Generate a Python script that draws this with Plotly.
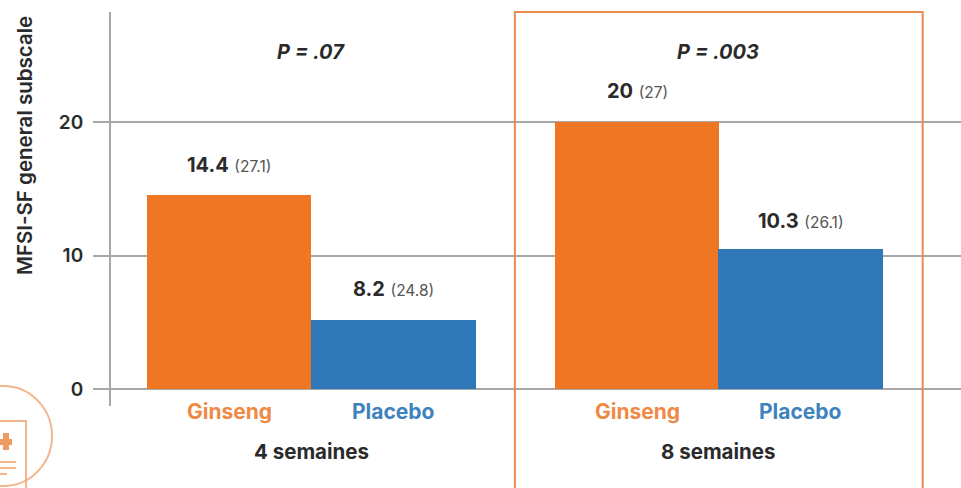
import plotly.graph_objects as go

# ---- data
x_positions = [0, 1, 2.48, 3.475]
group_x = [0.5, 2.975]
bar_heights = [14.5, 5.2, 20, 10.5]
bar_colors = ["#EF7622", "#2F78B7", "#EF7622", "#2F78B7"]
bar_main = ["14.4", "8.2", "20", "10.3"]
bar_sd = ["(27.1)", "(24.8)", "(27)", "(26.1)"]
arm_labels = ["Ginseng", "Placebo", "Ginseng", "Placebo"]
group_labels = ["4 semaines", "8 semaines"]
p_labels = ["P = .07", "P = .003"]
y_ticks = [0, 10, 20]
y_title = "MFSI-SF general subscale"

FONT = "Inter"
GRID = "#A8A8A8"
INK = "#2B2B2B"
ORANGE_TXT = "#EE8A45"
BLUE_TXT = "#3F83BE"
SOFT = "#F3B68C"

W, H = 961, 488
L, T, B = 111, 12, 82
PW, PH = W - L, H - T - B

fig = go.Figure()
fig.add_trace(go.Bar(
    x=x_positions, y=bar_heights, width=1.0,
    marker=dict(color=bar_colors, line=dict(width=0)),
    hoverinfo="skip", showlegend=False, cliponaxis=False,
))

ann = []
def text(x, y, s, size, color, xref="x", yref="y", weight=600, **kw):
    ann.append(dict(x=x, y=y, xref=xref, yref=yref, text=s, showarrow=False,
                    xanchor="center", yanchor="middle",
                    font=dict(family=FONT, size=size, color=color, weight=weight), **kw))

def px(v): return (v - L) / PW
def py(v): return 1 - (v - T) / PH

# value labels above the bars
label_offset = [30, 31, 31, 28]
for xp, h, m, s, off in zip(x_positions, bar_heights, bar_main, bar_sd, label_offset):
    text(xp, h, f"<b>{m}</b> <span style='font-size:15.5px;color:#555'>{s}</span>", 20, INK,
         weight=400, yshift=off)

# arm and group labels below the axis
for xp, a, c in zip(x_positions, arm_labels, [ORANGE_TXT, BLUE_TXT, ORANGE_TXT, BLUE_TXT]):
    text(xp, py(411), a, 21, c, yref="paper", weight=700)
for gx, g in zip(group_x, group_labels):
    text(gx, py(451), g, 20.5, INK, yref="paper", weight=700)
for gx, p in zip(group_x, p_labels):
    text(gx, py(52), f"<i>{p}</i>", 20, INK, yref="paper", weight=700)

# y title, rotated
text(px(24), py(146), y_title, 20.5, INK, xref="paper", yref="paper", textangle=-90, weight=600)

shapes = [
    # highlight frame around the 8-week group
    dict(type="rect", xref="x", yref="paper", x0=1.737, x1=4.217, y0=-1, y1=1,
         line=dict(color="#E98B4C", width=2), fillcolor="rgba(0,0,0,0)", layer="above"),
    # decorative clipboard badge
    dict(type="circle", xref="paper", yref="paper", x0=px(-45), x1=px(52), y0=py(486), y1=py(386),
         line=dict(color=SOFT, width=2)),
    dict(type="rect", xref="paper", yref="paper", x0=px(-8), x1=px(26), y0=py(492), y1=py(421),
         line=dict(color=SOFT, width=2)),
    dict(type="rect", xref="paper", yref="paper", x0=px(3), x1=px(9), y0=py(450), y1=py(433),
         line=dict(width=0), fillcolor="#EF9A60"),
    dict(type="rect", xref="paper", yref="paper", x0=px(-2), x1=px(12), y0=py(445), y1=py(439),
         line=dict(width=0), fillcolor="#EF9A60"),
    dict(type="line", xref="paper", yref="paper", x0=px(0), x1=px(16), y0=py(462), y1=py(462),
         line=dict(color=SOFT, width=2)),
    dict(type="line", xref="paper", yref="paper", x0=px(0), x1=px(16), y0=py(468), y1=py(468),
         line=dict(color=SOFT, width=2)),
    dict(type="line", xref="paper", yref="paper", x0=px(0), x1=px(7), y0=py(474), y1=py(474),
         line=dict(color=SOFT, width=2)),
]

fig.update_layout(
    width=W, height=H, margin=dict(l=L, r=0, t=T, b=B, autoexpand=False),
    paper_bgcolor="white", plot_bgcolor="white",
    annotations=ann, shapes=shapes, bargap=0, showlegend=False,
    xaxis=dict(range=[-0.719, 4.45], showgrid=False, zeroline=False, showline=False,
               showticklabels=False, ticks="", fixedrange=True),
    yaxis=dict(range=[-1.27, 28.24], tickvals=y_ticks, ticktext=[str(v) for v in y_ticks],
               showgrid=True, gridcolor=GRID, gridwidth=2, zeroline=False,
               showline=True, linecolor=GRID, linewidth=2,
               ticks="outside", ticklen=16, tickwidth=2, tickcolor=GRID,
               ticklabelstandoff=6,
               tickfont=dict(family=FONT, size=19, color=INK, weight=600), fixedrange=True),
)
fig.write_html("out.html", config={"displayModeBar": False},
               post_script="document.body.style.margin='0';document.body.style.overflow='hidden';")
